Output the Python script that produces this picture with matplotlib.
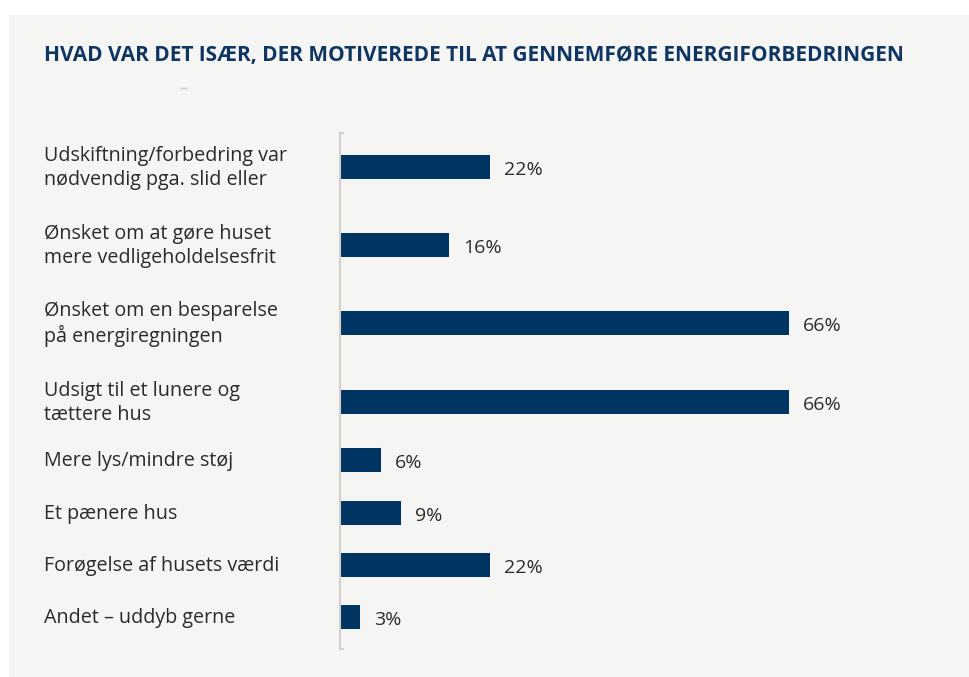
import matplotlib.pyplot as plt
from matplotlib.patches import Rectangle
from matplotlib.lines import Line2D

plt.rcParams['font.family'] = ['Open Sans', 'DejaVu Sans']

# Data
categories = [
    "Udskiftning/forbedring var\nnødvendig pga. slid eller",
    "Ønsket om at gøre huset\nmere vedligeholdelsesfrit",
    "Ønsket om en besparelse\npå energiregningen",
    "Udsigt til et lunere og\ntættere hus",
    "Mere lys/mindre støj",
    "Et pænere hus",
    "Forøgelse af husets værdi",
    "Andet – uddyb gerne",
]
values = [22, 16, 66, 66, 6, 9, 22, 3]
value_labels = ["22%", "16%", "66%", "66%", "6%", "9%", "22%", "3%"]
title = "HVAD VAR DET ISÆR, DER MOTIVEREDE TIL AT GENNEMFØRE ENERGIFORBEDRINGEN"

# Layout (pixel rows, from the top of the figure)
row_y = [167, 245, 323, 402, 460, 513, 565, 617]

W, H = 970, 677
navy = "#003463"
title_col = "#0f3563"
text_col = "#2b2b2b"
panel_col = "#f5f5f3"
axis_col = "#d4d0c8"

fig = plt.figure(figsize=(W / 100, H / 100), dpi=100, facecolor="white")
fig.patches.append(Rectangle((9 / W, 0), 1 - 9 / W, 1 - 15 / H,
                             transform=fig.transFigure, facecolor=panel_col,
                             edgecolor="none", zorder=-5))

# axes: x from 340px, 6.8 px per percent; y in pixel units
x0, x1 = 340, 952
y_top, y_bot = 133, 649
ax = fig.add_axes([x0 / W, 1 - y_bot / H, (x1 - x0) / W, (y_bot - y_top) / H])
ax.set_zorder(2)
ax.set_facecolor("none")
ax.set_xlim(0, (x1 - x0) / 6.8)
ax.set_ylim(y_bot, y_top)

ax.barh(row_y, values, height=24, color=navy, zorder=2)
for y, v, lab in zip(row_y, values, value_labels):
    ax.annotate(lab, (v, y), xytext=(14, -3), textcoords="offset pixels",
                va="center", ha="left", fontsize=14, color=text_col)

for s in ["top", "right", "bottom"]:
    ax.spines[s].set_visible(False)
ax.spines["left"].set_color(axis_col)
ax.spines["left"].set_linewidth(1.5)
ax.set_xticks([])
ax.set_yticks([])
# small caps on the axis line
for yy in (y_top, y_bot):
    ax.add_line(Line2D([0, 3 / 6.8], [yy, yy], color=axis_col, lw=1.5,
                       clip_on=False))

for y, cat in zip(row_y, categories):
    fig.text(44 / W, 1 - (y + 1) / H, cat, ha="left", va="center",
             fontsize=14.2, color=text_col, linespacing=1.27)

fig.text(44 / W, 1 - 56 / H, title, ha="left", va="center", fontsize=15,
         fontweight="bold", color=title_col)

fig.add_artist(Line2D([181 / W, 186 / W], [1 - 88 / H, 1 - 88 / H],
                      transform=fig.transFigure, color="#cfcbc4", lw=1))

fig.savefig("out.png", dpi=100, facecolor=fig.get_facecolor())
